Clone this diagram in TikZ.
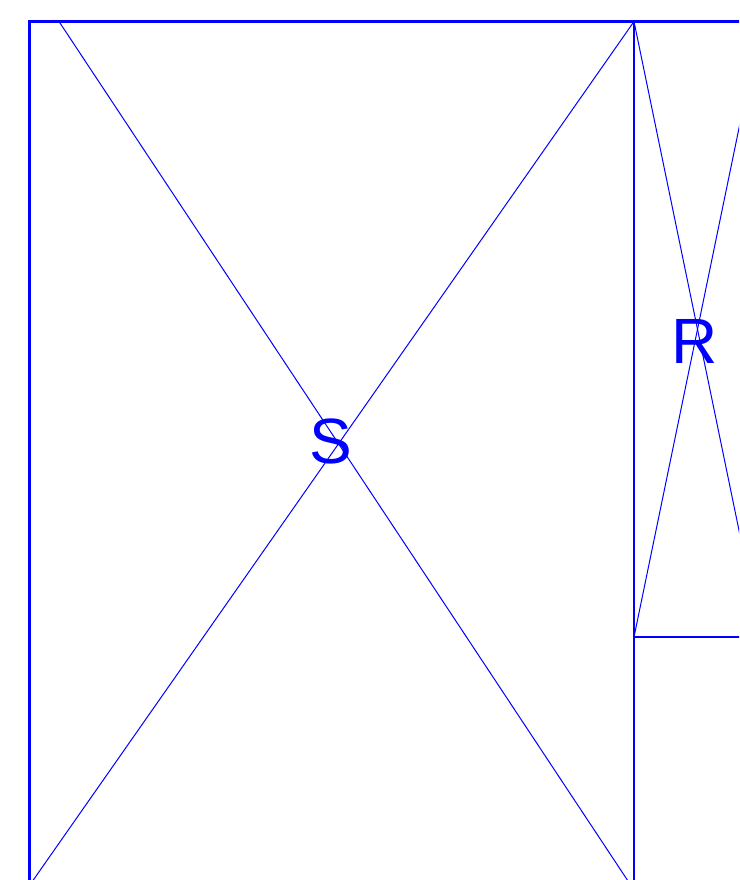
\documentclass[tikz,border=0pt]{standalone}
\usepackage{fontspec}
\setmainfont{Liberation Sans}
\begin{document}
\begin{tikzpicture}[x=1pt,y=-1pt,
  edge/.style={draw=blue, line width=2.5pt},
  diag/.style={draw=blue, line width=1pt},
  lbl/.style={text=blue, inner sep=0pt, font=\fontsize{64}{64}\selectfont}]
\useasboundingbox (0,0) rectangle (739,880);
\clip (0,0) rectangle (739,880);
% left box S
\draw[edge] (29.5,900) -- (29.5,21.5) -- (634,21.5) -- (634,900);
\draw[diag] (59,21.5) -- (640.6,900);
\draw[diag] (634,21.5) -- (19.3,900);
% right box R
\draw[edge] (634,21.5) rectangle (761,637);
\draw[diag] (634,21.5) -- (761,637);
\draw[diag] (634,637) -- (761,21.5);
\node[lbl] (S) at (331,441) {S};
\node[lbl] (R) at (695,341) {R};
\end{tikzpicture}
\end{document}
